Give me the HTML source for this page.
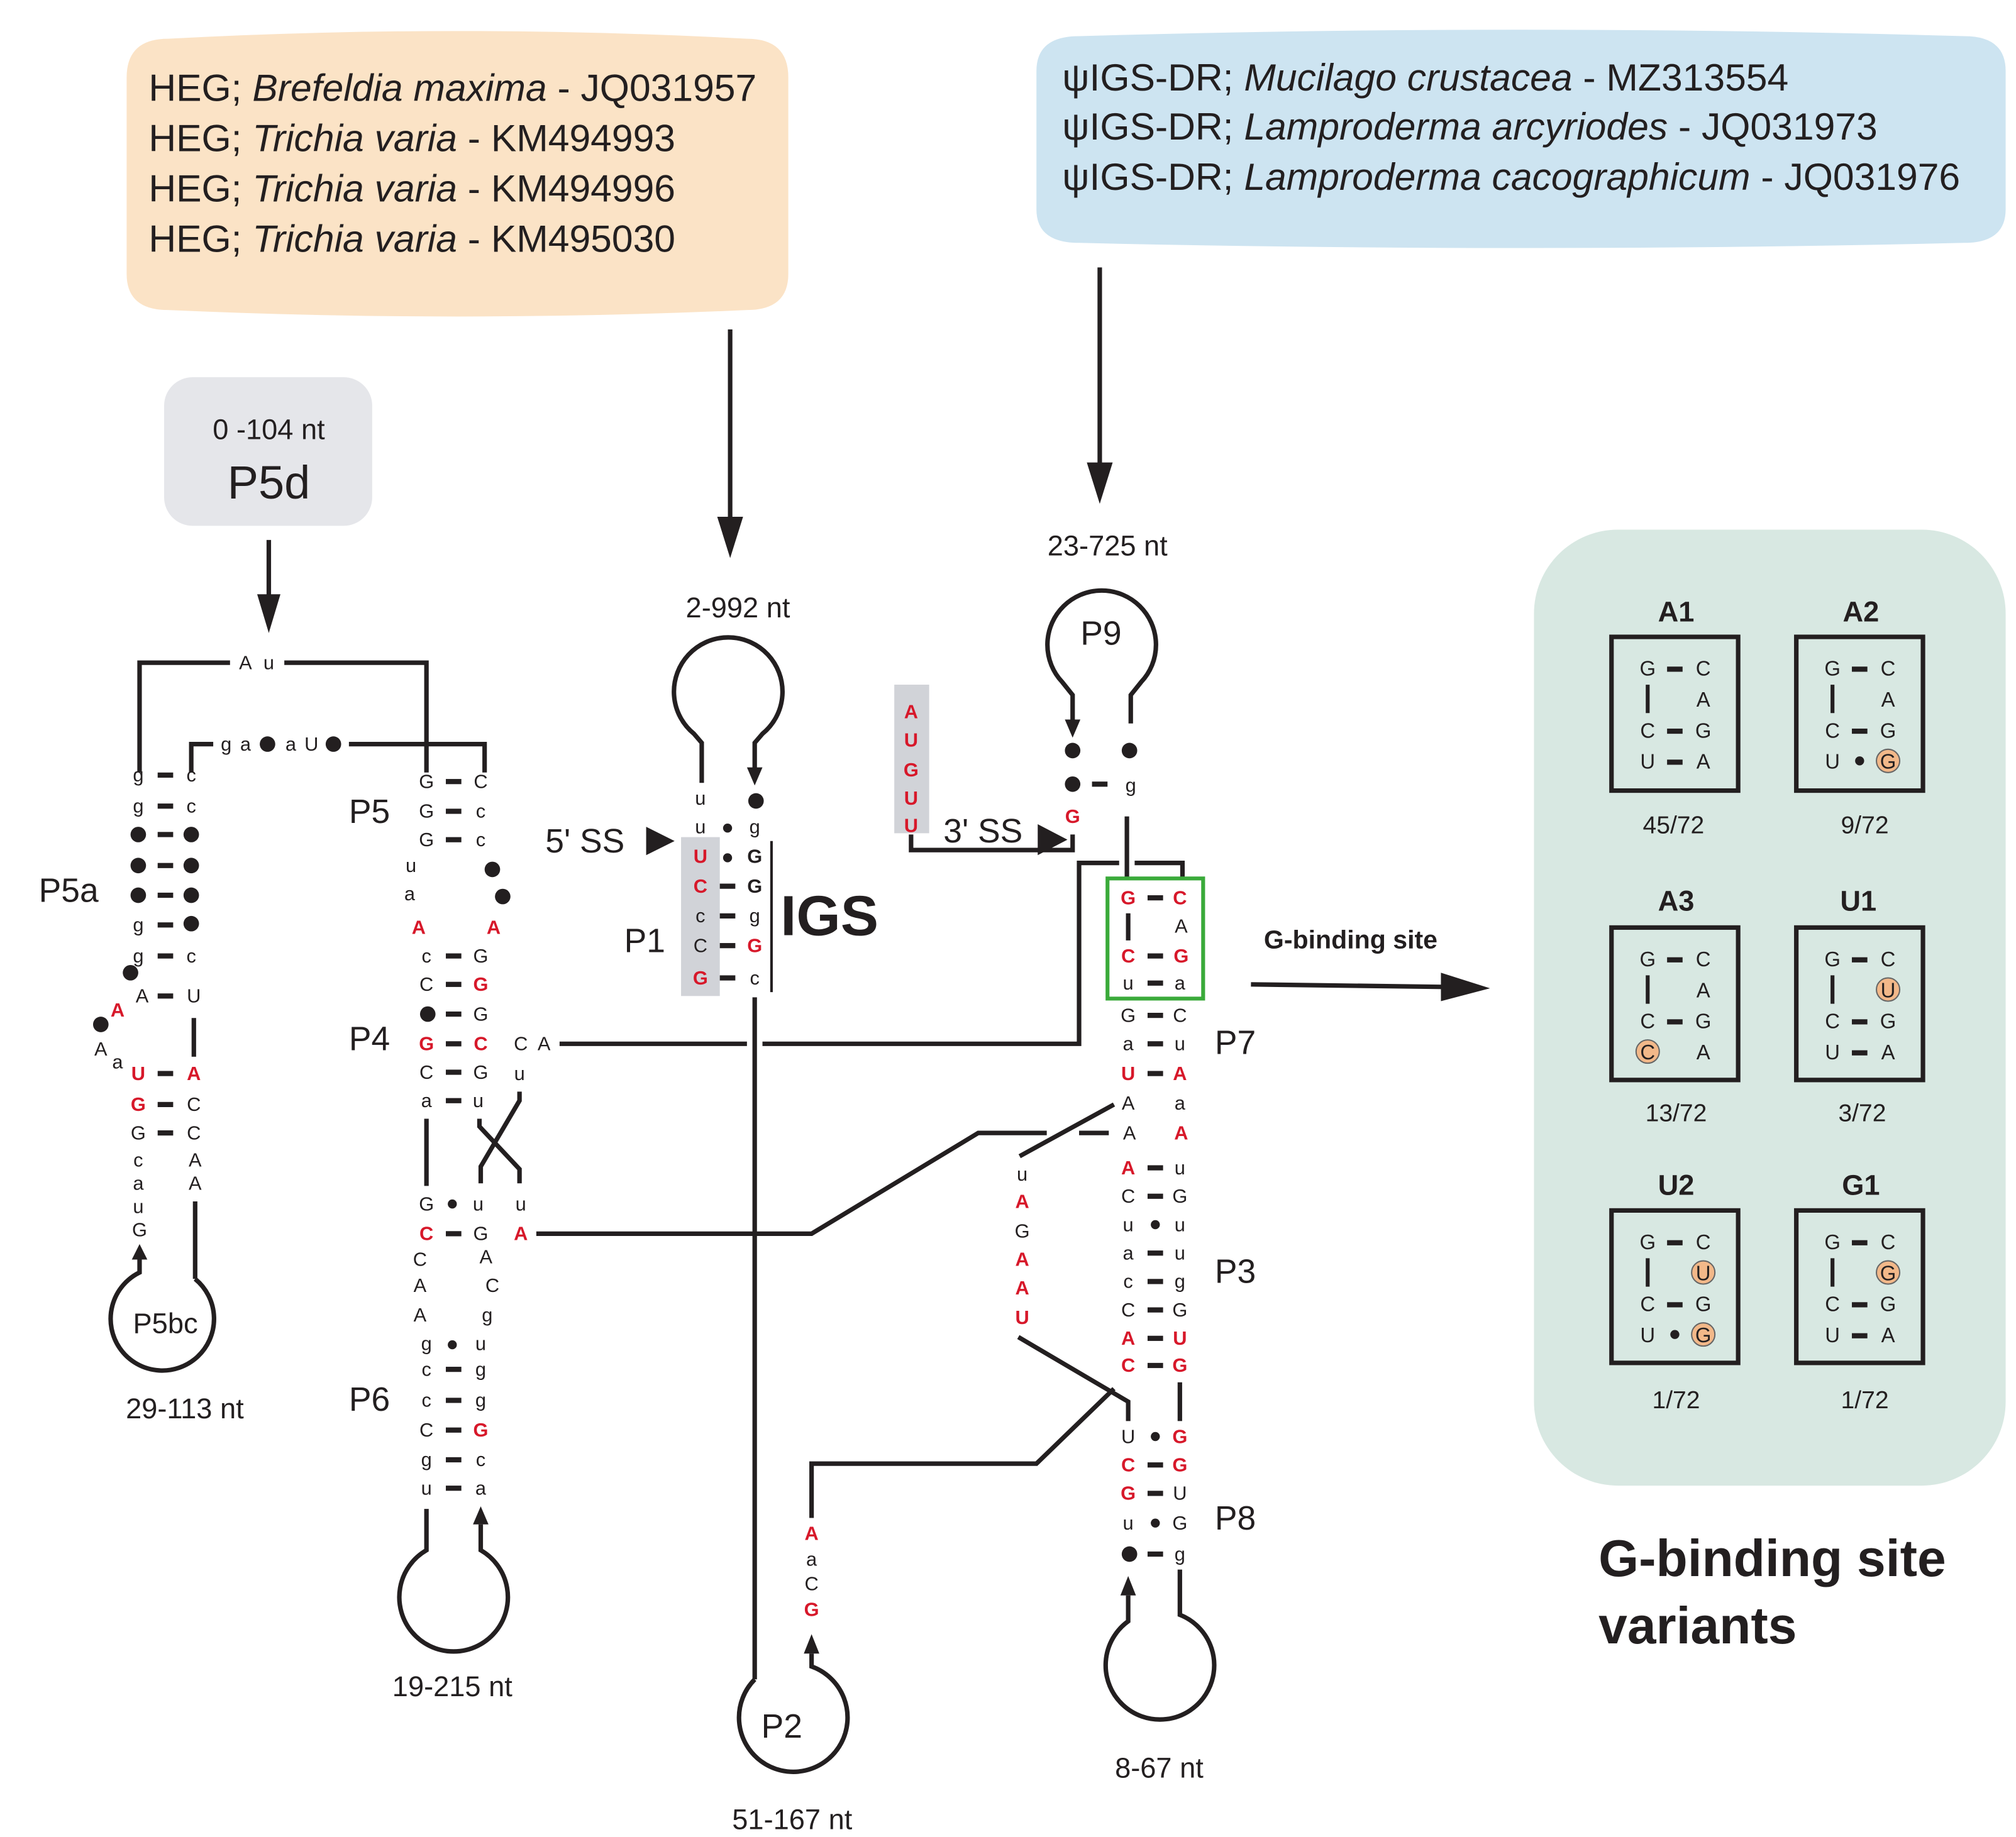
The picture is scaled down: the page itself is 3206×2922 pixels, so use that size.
<!DOCTYPE html>
<html><head><meta charset="utf-8"><style>
html,body{margin:0;padding:0;background:#fff}
svg{display:block}
text{font-family:"Liberation Sans",Arial,sans-serif;fill:#231f20}
.n{font-size:15px;text-anchor:middle}
.r{font-size:15px;text-anchor:middle;font-weight:bold;fill:#d7182a}
.lab{font-size:26px}
.nt{font-size:22px;text-anchor:middle}
.v{font-size:16px;text-anchor:middle}
.vh{font-size:22px;font-weight:bold;text-anchor:middle}
.vc{font-size:19px;text-anchor:middle}
.bx{font-size:29.5px}
line,path,polyline{stroke:#231f20;stroke-width:3.5;fill:none}
.d{fill:#231f20}
</style></head><body>
<svg width="3206" height="2922" viewBox="0 0 1560 1422" preserveAspectRatio="none" xmlns="http://www.w3.org/2000/svg">
<!-- top boxes -->
<path d="M98,60 Q98,30 130,30 Q354,18 578,30 Q610,30 610,60 L610,212 Q610,240 578,240 Q354,250 130,240 Q98,240 98,212 z" style="fill:#fbe3c6;stroke:none"/>
<text x="115" y="78" class="bx">HEG; <tspan font-style="italic">Brefeldia maxima</tspan> - JQ031957</text>
<text x="115" y="117" class="bx">HEG; <tspan font-style="italic">Trichia varia</tspan> - KM494993</text>
<text x="115" y="156" class="bx">HEG; <tspan font-style="italic">Trichia varia</tspan> - KM494996</text>
<text x="115" y="195" class="bx">HEG; <tspan font-style="italic">Trichia varia</tspan> - KM495030</text>
<path d="M802,55 Q802,28 835,28 Q1177,18 1520,28 Q1552,28 1552,55 L1552,162 Q1552,188 1520,188 Q1177,196 835,188 Q802,188 802,162 z" style="fill:#cde4f1;stroke:none"/>
<text x="822" y="70" class="bx">ψIGS-DR; <tspan font-style="italic">Mucilago crustacea</tspan> - MZ313554</text>
<text x="822" y="108" class="bx">ψIGS-DR; <tspan font-style="italic">Lamproderma arcyriodes</tspan> - JQ031973</text>
<text x="822" y="147" class="bx">ψIGS-DR; <tspan font-style="italic">Lamproderma cacographicum</tspan> - JQ031976</text>
<rect x="127" y="292" width="161" height="115" rx="22" fill="#e5e6ea"/>
<text x="208" y="340" class="nt">0 -104 nt</text>
<text x="208" y="386" style="font-size:36px;text-anchor:middle">P5d</text>
<!-- big arrows -->
<line x1="565" y1="255" x2="565" y2="410"/><path d="M555,400 L575,400 L565,432 z" class="d" style="stroke:none;fill:#231f20"/>
<line x1="851" y1="207" x2="851" y2="368"/><path d="M841,358 L861,358 L851,390 z" style="stroke:none;fill:#231f20"/>
<line x1="208" y1="418" x2="208" y2="470"/><path d="M199,460 L217,460 L208,490 z" style="stroke:none;fill:#231f20"/>

<!-- P5a / P5 brackets -->
<polyline points="108,598 108,513 178,513"/>
<text x="190" y="518" class="n">A</text><text x="208" y="518" class="n">u</text>
<polyline points="220,513 330,513 330,598"/>
<polyline points="148,598 148,576 165,576"/>
<text x="175" y="581" class="n">g</text><text x="190" y="581" class="n">a</text><circle cx="207" cy="576" r="6" class="d"/><text x="225" y="581" class="n">a</text><text x="241" y="581" class="n">U</text><circle cx="258" cy="576" r="6" class="d"/>
<polyline points="270,576 375,576 375,598"/>

<!-- P5a stem -->
<g>
<text x="107" y="605" class="n">g</text><rect x="122" y="598" width="12" height="4" class="d"/><text x="148" y="605" class="n">c</text>
<text x="107" y="629" class="n">g</text><rect x="122" y="622" width="12" height="4" class="d"/><text x="148" y="629" class="n">c</text>
<circle cx="107" cy="646" r="6" class="d"/><rect x="122" y="644" width="12" height="4" class="d"/><circle cx="148" cy="646" r="6" class="d"/>
<circle cx="107" cy="670" r="6" class="d"/><rect x="122" y="668" width="12" height="4" class="d"/><circle cx="148" cy="670" r="6" class="d"/>
<circle cx="107" cy="693" r="6" class="d"/><rect x="122" y="691" width="12" height="4" class="d"/><circle cx="148" cy="693" r="6" class="d"/>
<text x="107" y="721" class="n">g</text><rect x="122" y="714" width="12" height="4" class="d"/><circle cx="148" cy="715" r="6" class="d"/>
<text x="107" y="745" class="n">g</text><rect x="122" y="738" width="12" height="4" class="d"/><text x="148" y="745" class="n">c</text>
<circle cx="101" cy="753" r="6" class="d"/>
<text x="110" y="776" class="n">A</text><rect x="122" y="769" width="12" height="4" class="d"/><text x="150" y="776" class="n">U</text>
<text x="91" y="787" class="r">A</text><circle cx="78" cy="793" r="6" class="d"/>
<text x="78" y="817" class="n">A</text><text x="91" y="827" class="n">a</text>
<line x1="150" y1="788" x2="150" y2="818"/>
<text x="107" y="836" class="r">U</text><rect x="122" y="829" width="12" height="4" class="d"/><text x="150" y="836" class="r">A</text>
<text x="107" y="860" class="r">G</text><rect x="122" y="853" width="12" height="4" class="d"/><text x="150" y="860" class="n">C</text>
<text x="107" y="882" class="n">G</text><rect x="122" y="875" width="12" height="4" class="d"/><text x="150" y="882" class="n">C</text>
<text x="107" y="903" class="n">c</text><text x="151" y="903" class="n">A</text>
<text x="107" y="921" class="n">a</text><text x="151" y="921" class="n">A</text>
<text x="107" y="939" class="n">u</text>
<text x="108" y="957" class="n">G</text>
<line x1="151" y1="930" x2="151" y2="990"/>
<path d="M102,975 L114,975 L108,963 z" style="stroke:none;fill:#231f20"/>
<path d="M108,975 L108,985 A40,40 0 1 0 151,990" />
<text x="128" y="1032" style="font-size:22px;text-anchor:middle">P5bc</text>
<text x="143" y="1098" class="nt">29-113 nt</text>
<text x="30" y="698" class="lab">P5a</text>
</g>

<!-- P5 / P4 -->
<text x="270" y="637" class="lab">P5</text>
<text x="330" y="610" class="n">G</text><rect x="345" y="603" width="12" height="4" class="d"/><text x="372" y="610" class="n">C</text>
<text x="330" y="633" class="n">G</text><rect x="345" y="626" width="12" height="4" class="d"/><text x="372" y="633" class="n">c</text>
<text x="330" y="655" class="n">G</text><rect x="345" y="648" width="12" height="4" class="d"/><text x="372" y="655" class="n">c</text>
<text x="318" y="675" class="n">u</text><circle cx="381" cy="673" r="6" class="d"/>
<text x="317" y="697" class="n">a</text><circle cx="389" cy="694" r="6" class="d"/>
<text x="324" y="723" class="r">A</text><text x="382" y="723" class="r">A</text>
<text x="270" y="813" class="lab">P4</text>
<text x="330" y="745" class="n">c</text><rect x="345" y="738" width="12" height="4" class="d"/><text x="372" y="745" class="n">G</text>
<text x="330" y="767" class="n">C</text><rect x="345" y="760" width="12" height="4" class="d"/><text x="372" y="767" class="r">G</text>
<circle cx="331" cy="785" r="6" class="d"/><rect x="345" y="783" width="12" height="4" class="d"/><text x="372" y="790" class="n">G</text>
<text x="330" y="813" class="r">G</text><rect x="345" y="806" width="12" height="4" class="d"/><text x="372" y="813" class="r">C</text>
<text x="330" y="835" class="n">C</text><rect x="345" y="828" width="12" height="4" class="d"/><text x="372" y="835" class="n">G</text>
<text x="330" y="857" class="n">a</text><rect x="345" y="850" width="12" height="4" class="d"/><text x="370" y="857" class="n">u</text>
<text x="403" y="813" class="n">C</text><text x="421" y="813" class="n">A</text>
<text x="402" y="836" class="n">u</text>
<line x1="330" y1="866" x2="330" y2="918"/>
<polyline points="402,845 402,852 372,903 372,916"/>
<polyline points="371,866 371,872 402,905 402,916"/>
<line x1="433" y1="808" x2="578" y2="808"/>
<polyline points="590,808 835,808 835,668 866,668"/>
<polyline points="878,668 915,668 915,681"/>
<!-- P6 -->
<text x="330" y="937" class="n">G</text><circle cx="350" cy="932" r="3.5" class="d"/><text x="370" y="937" class="n">u</text><text x="403" y="937" class="n">u</text>
<text x="330" y="960" class="r">C</text><rect x="345" y="953" width="12" height="4" class="d"/><text x="372" y="960" class="n">G</text><text x="403" y="960" class="r">A</text>
<polyline points="415,955 628,955 757,877 810,877"/>
<line x1="835" y1="877" x2="858" y2="877"/>
<line x1="789" y1="895" x2="862" y2="855"/>
<text x="325" y="980" class="n">C</text><text x="376" y="978" class="n">A</text>
<text x="325" y="1000" class="n">A</text><text x="381" y="1000" class="n">C</text>
<text x="325" y="1023" class="n">A</text><text x="377" y="1023" class="n">g</text>
<text x="270" y="1092" class="lab">P6</text>
<text x="330" y="1045" class="n">g</text><circle cx="350" cy="1041" r="3.5" class="d"/><text x="372" y="1045" class="n">u</text>
<text x="330" y="1065" class="n">c</text><rect x="345" y="1058" width="12" height="4" class="d"/><text x="372" y="1065" class="n">g</text>
<text x="330" y="1089" class="n">c</text><rect x="345" y="1082" width="12" height="4" class="d"/><text x="372" y="1089" class="n">g</text>
<text x="330" y="1112" class="n">C</text><rect x="345" y="1105" width="12" height="4" class="d"/><text x="372" y="1112" class="r">G</text>
<text x="330" y="1135" class="n">g</text><rect x="345" y="1128" width="12" height="4" class="d"/><text x="372" y="1135" class="n">c</text>
<text x="330" y="1157" class="n">u</text><rect x="345" y="1150" width="12" height="4" class="d"/><text x="372" y="1157" class="n">a</text>
<path d="M330,1168 L330,1200 A42,42 0 1 0 372,1200 L372,1180"/>
<path d="M366,1180 L378,1180 L372,1166 z" style="stroke:none;fill:#231f20"/>
<text x="350" y="1313" class="nt">19-215 nt</text>

<!-- IGS / P1 -->
<text x="571" y="478" class="nt">2-992 nt</text>
<path d="M543,606 L543,575 L537,568 A42,42 0 1 1 590,568 L584,575 L584,596"/>
<path d="M578,594 L590,594 L584,608 z" style="stroke:none;fill:#231f20"/>
<rect x="527" y="648" width="30" height="123" fill="#d1d3d8"/>
<text x="542" y="623" class="n">u</text><circle cx="585" cy="620" r="6" class="d"/>
<text x="542" y="645" class="n">u</text><circle cx="563" cy="641" r="3.5" class="d"/><text x="584" y="645" class="n">g</text>
<text x="542" y="668" class="r">U</text><circle cx="563" cy="664" r="3.5" class="d"/><text x="584" y="668" style="font-size:15px;text-anchor:middle;font-weight:bold">G</text>
<text x="542" y="691" class="r">C</text><rect x="557" y="684" width="12" height="4" class="d"/><text x="584" y="691" style="font-size:15px;text-anchor:middle;font-weight:bold">G</text>
<text x="542" y="714" class="n">c</text><rect x="557" y="707" width="12" height="4" class="d"/><text x="584" y="714" class="n">g</text>
<text x="542" y="737" class="n">C</text><rect x="557" y="730" width="12" height="4" class="d"/><text x="584" y="737" class="r">G</text>
<text x="542" y="762" class="r">G</text><rect x="557" y="755" width="12" height="4" class="d"/><text x="584" y="762" class="n">c</text>
<line x1="597" y1="651" x2="597" y2="768" style="stroke-width:2"/>
<text x="604" y="724" style="font-size:44px;font-weight:bold">IGS</text>
<text x="483" y="737" class="lab">P1</text>
<text x="422" y="660" class="lab">5' SS</text>
<path d="M500,640 L522,651 L500,662 z" style="stroke:none;fill:#231f20"/>
<line x1="584" y1="772" x2="584" y2="1300"/>
<!-- P2 -->
<path d="M584,1300 A42,42 0 1 0 628,1290 L628,1280"/>
<path d="M622,1280 L634,1280 L628,1265 z" style="stroke:none;fill:#231f20"/>
<text x="605" y="1345" style="font-size:26px;text-anchor:middle">P2</text>
<text x="613" y="1416" class="nt">51-167 nt</text>
<text x="628" y="1192" class="r">A</text><text x="628" y="1212" class="n">a</text><text x="628" y="1231" class="n">C</text><text x="628" y="1251" class="r">G</text>
<polyline points="628,1175 628,1133 802,1133 862,1075"/>

<!-- P9 / 3'SS -->
<text x="857" y="430" class="nt">23-725 nt</text>
<path d="M830,558 L830,538 L822,528 A42,42 0 1 1 883,528 L875,538 L875,560"/>
<path d="M824,557 L836,557 L830,571 z" style="stroke:none;fill:#231f20"/>
<text x="852" y="499" style="font-size:26px;text-anchor:middle">P9</text>
<circle cx="830" cy="581" r="6" class="d"/><circle cx="874" cy="581" r="6" class="d"/>
<circle cx="830" cy="607" r="6" class="d"/><rect x="845" y="605" width="12" height="4" class="d"/><text x="875" y="613" class="n">g</text>
<text x="830" y="637" class="r">G</text>
<line x1="872" y1="632" x2="872" y2="680"/>
<rect x="692" y="530" width="27" height="115" fill="#d1d3d8"/>
<text x="705" y="556" class="r">A</text><text x="705" y="578" class="r">U</text><text x="705" y="601" class="r">G</text><text x="705" y="623" class="r">U</text><text x="705" y="644" class="r">U</text>
<polyline points="705,646 705,658 830,658 830,646"/>
<text x="730" y="652" class="lab">3' SS</text>
<path d="M803,638 L826,650 L803,662 z" style="stroke:none;fill:#231f20"/>

<!-- P7/P3/P8 -->
<rect x="857" y="680" width="74" height="93" fill="none" stroke="#3aaa3a" stroke-width="3"/>
<text x="873" y="700" class="r">G</text><rect x="888" y="693" width="12" height="4" class="d"/><text x="913" y="700" class="r">C</text>
<line x1="873" y1="707" x2="873" y2="728"/><text x="914" y="722" class="n">A</text>
<text x="873" y="745" class="r">C</text><rect x="888" y="738" width="12" height="4" class="d"/><text x="914" y="745" class="r">G</text>
<text x="873" y="766" class="n">u</text><rect x="888" y="759" width="12" height="4" class="d"/><text x="913" y="766" class="n">a</text>
<text x="873" y="791" class="n">G</text><rect x="888" y="784" width="12" height="4" class="d"/><text x="913" y="791" class="n">C</text>
<text x="873" y="813" class="n">a</text><rect x="888" y="806" width="12" height="4" class="d"/><text x="913" y="813" class="n">u</text>
<text x="873" y="836" class="r">U</text><rect x="888" y="829" width="12" height="4" class="d"/><text x="913" y="836" class="r">A</text>
<text x="873" y="859" class="n">A</text><text x="913" y="859" class="n">a</text>
<text x="874" y="882" class="n">A</text><text x="914" y="882" class="r">A</text>
<text x="940" y="816" class="lab">P7</text>
<text x="873" y="909" class="r">A</text><rect x="888" y="902" width="12" height="4" class="d"/><text x="913" y="909" class="n">u</text>
<text x="873" y="931" class="n">C</text><rect x="888" y="924" width="12" height="4" class="d"/><text x="913" y="931" class="n">G</text>
<text x="873" y="953" class="n">u</text><circle cx="894" cy="948" r="3.5" class="d"/><text x="913" y="953" class="n">u</text>
<text x="873" y="975" class="n">a</text><rect x="888" y="968" width="12" height="4" class="d"/><text x="913" y="975" class="n">u</text>
<text x="873" y="997" class="n">c</text><rect x="888" y="990" width="12" height="4" class="d"/><text x="913" y="997" class="n">g</text>
<text x="873" y="1019" class="n">C</text><rect x="888" y="1012" width="12" height="4" class="d"/><text x="913" y="1019" class="n">G</text>
<text x="873" y="1041" class="r">A</text><rect x="888" y="1034" width="12" height="4" class="d"/><text x="913" y="1041" class="r">U</text>
<text x="873" y="1062" class="r">C</text><rect x="888" y="1055" width="12" height="4" class="d"/><text x="913" y="1062" class="r">G</text>
<text x="940" y="993" class="lab">P3</text>
<text x="791" y="914" class="n">u</text><text x="791" y="935" class="r">A</text><text x="791" y="958" class="n">G</text><text x="791" y="980" class="r">A</text><text x="791" y="1002" class="r">A</text><text x="791" y="1025" class="r">U</text>
<polyline points="788,1035 873,1085 873,1100"/>
<line x1="913" y1="1070" x2="913" y2="1100"/>
<text x="873" y="1117" class="n">U</text><circle cx="894" cy="1112" r="3.5" class="d"/><text x="913" y="1117" class="r">G</text>
<text x="873" y="1139" class="r">C</text><rect x="888" y="1132" width="12" height="4" class="d"/><text x="913" y="1139" class="r">G</text>
<text x="873" y="1161" class="r">G</text><rect x="888" y="1154" width="12" height="4" class="d"/><text x="913" y="1161" class="n">U</text>
<text x="873" y="1184" class="n">u</text><circle cx="894" cy="1179" r="3.5" class="d"/><text x="913" y="1184" class="n">G</text>
<circle cx="874" cy="1203" r="6" class="d"/><rect x="888" y="1201" width="12" height="4" class="d"/><text x="913" y="1208" class="n">g</text>
<text x="940" y="1184" class="lab">P8</text>
<path d="M873,1235 L873,1255 A42,42 0 1 0 913,1250 L913,1215"/>
<path d="M867,1235 L879,1235 L873,1220 z" style="stroke:none;fill:#231f20"/>
<text x="897" y="1376" class="nt">8-67 nt</text>

<!-- G-binding arrow -->
<text x="978" y="734" style="font-size:20px;font-weight:bold">G-binding site</text>
<line x1="968" y1="762" x2="1120" y2="764"/>
<path d="M1115,753 L1153,765 L1115,775 z" style="stroke:none;fill:#231f20"/>

<!-- Variants panel -->
<rect x="1187" y="410" width="365" height="740" rx="65" fill="#d8e8e2"/>
<text x="1237" y="1220" style="font-size:40px;font-weight:bold">G-binding site</text>
<text x="1237" y="1272" style="font-size:40px;font-weight:bold">variants</text>
<g id="vars">
<text x="1297" y="481" class="vh">A1</text>
<rect x="1247" y="493" width="98" height="119" fill="none" stroke="#231f20" stroke-width="3.5"/>
<text x="1275" y="523" class="v">G</text><rect x="1290" y="516" width="12" height="4" class="d"/><text x="1318" y="523" class="v">C</text>
<line x1="1275" y1="530" x2="1275" y2="552" style="stroke-width:3"/><text x="1318" y="547" class="v">A</text>
<text x="1275" y="571" class="v">C</text><rect x="1290" y="564" width="12" height="4" class="d"/><text x="1318" y="571" class="v">G</text>
<text x="1275" y="595" class="v">U</text><rect x="1290" y="588" width="12" height="4" class="d"/><text x="1318" y="595" class="v">A</text>
<text x="1295" y="645" class="vc">45/72</text>
<text x="1440" y="481" class="vh">A2</text>
<rect x="1390" y="493" width="98" height="119" fill="none" stroke="#231f20" stroke-width="3.5"/>
<text x="1418" y="523" class="v">G</text><rect x="1433" y="516" width="12" height="4" class="d"/><text x="1461" y="523" class="v">C</text>
<line x1="1418" y1="530" x2="1418" y2="552" style="stroke-width:3"/><text x="1461" y="547" class="v">A</text>
<text x="1418" y="571" class="v">C</text><rect x="1433" y="564" width="12" height="4" class="d"/><text x="1461" y="571" class="v">G</text>
<text x="1418" y="595" class="v">U</text><circle cx="1439" cy="589" r="3.5" class="d"/><circle cx="1461" cy="589" r="9" fill="#f2b889" stroke="#666" stroke-width="1"/><text x="1461" y="595" class="v">G</text>
<text x="1443" y="645" class="vc">9/72</text>
<text x="1297" y="705" class="vh">A3</text>
<rect x="1247" y="718" width="98" height="118" fill="none" stroke="#231f20" stroke-width="3.5"/>
<text x="1275" y="748" class="v">G</text><rect x="1290" y="741" width="12" height="4" class="d"/><text x="1318" y="748" class="v">C</text>
<line x1="1275" y1="755" x2="1275" y2="777" style="stroke-width:3"/><text x="1318" y="772" class="v">A</text>
<text x="1275" y="796" class="v">C</text><rect x="1290" y="789" width="12" height="4" class="d"/><text x="1318" y="796" class="v">G</text>
<circle cx="1275" cy="814" r="9" fill="#f2b889" stroke="#666" stroke-width="1"/><text x="1275" y="820" class="v">C</text><text x="1318" y="820" class="v">A</text>
<text x="1297" y="868" class="vc">13/72</text>
<text x="1438" y="705" class="vh">U1</text>
<rect x="1390" y="718" width="98" height="118" fill="none" stroke="#231f20" stroke-width="3.5"/>
<text x="1418" y="748" class="v">G</text><rect x="1433" y="741" width="12" height="4" class="d"/><text x="1461" y="748" class="v">C</text>
<line x1="1418" y1="755" x2="1418" y2="777" style="stroke-width:3"/><circle cx="1461" cy="766" r="9" fill="#f2b889" stroke="#666" stroke-width="1"/><text x="1461" y="772" class="v">U</text>
<text x="1418" y="796" class="v">C</text><rect x="1433" y="789" width="12" height="4" class="d"/><text x="1461" y="796" class="v">G</text>
<text x="1418" y="820" class="v">U</text><rect x="1433" y="813" width="12" height="4" class="d"/><text x="1461" y="820" class="v">A</text>
<text x="1441" y="868" class="vc">3/72</text>
<text x="1297" y="925" class="vh">U2</text>
<rect x="1247" y="937" width="98" height="118" fill="none" stroke="#231f20" stroke-width="3.5"/>
<text x="1275" y="967" class="v">G</text><rect x="1290" y="960" width="12" height="4" class="d"/><text x="1318" y="967" class="v">C</text>
<line x1="1275" y1="974" x2="1275" y2="996" style="stroke-width:3"/><circle cx="1318" cy="985" r="9" fill="#f2b889" stroke="#666" stroke-width="1"/><text x="1318" y="991" class="v">U</text>
<text x="1275" y="1015" class="v">C</text><rect x="1290" y="1008" width="12" height="4" class="d"/><text x="1318" y="1015" class="v">G</text>
<text x="1275" y="1039" class="v">U</text><circle cx="1296" cy="1033" r="3.5" class="d"/><circle cx="1318" cy="1033" r="9" fill="#f2b889" stroke="#666" stroke-width="1"/><text x="1318" y="1039" class="v">G</text>
<text x="1297" y="1090" class="vc">1/72</text>
<text x="1440" y="925" class="vh">G1</text>
<rect x="1390" y="937" width="98" height="118" fill="none" stroke="#231f20" stroke-width="3.5"/>
<text x="1418" y="967" class="v">G</text><rect x="1433" y="960" width="12" height="4" class="d"/><text x="1461" y="967" class="v">C</text>
<line x1="1418" y1="974" x2="1418" y2="996" style="stroke-width:3"/><circle cx="1461" cy="985" r="9" fill="#f2b889" stroke="#666" stroke-width="1"/><text x="1461" y="991" class="v">G</text>
<text x="1418" y="1015" class="v">C</text><rect x="1433" y="1008" width="12" height="4" class="d"/><text x="1461" y="1015" class="v">G</text>
<text x="1418" y="1039" class="v">U</text><rect x="1433" y="1032" width="12" height="4" class="d"/><text x="1461" y="1039" class="v">A</text>
<text x="1443" y="1090" class="vc">1/72</text>
</g>
</svg>
</body></html>
